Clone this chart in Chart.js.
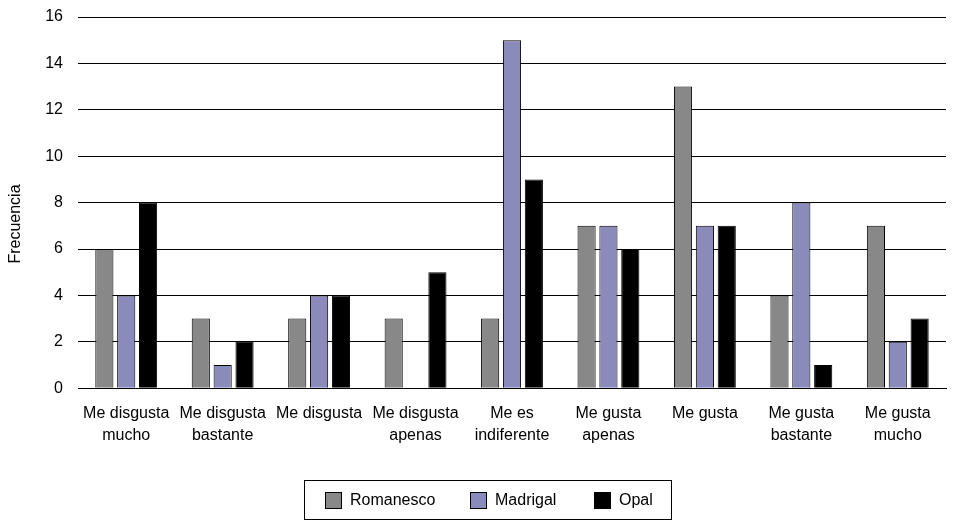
<!DOCTYPE html>
<html><head><meta charset="utf-8">
<script src="https://cdn.jsdelivr.net/npm/chart.js@4"></script>
<style>
html,body{margin:0;padding:0;background:#fff}
#w{width:964px;height:523px;position:relative}
#lg{position:absolute;left:304px;top:480px;width:366px;height:38px;border:1px solid #000;font-family:'Liberation Sans',Arial,sans-serif;font-size:16px;color:#000}
#lg .it{position:absolute;top:0;height:38px;display:flex;align-items:center}
#lg .sw{width:15px;height:15px;border:1px solid #000;margin-right:8px;box-sizing:content-box}
</style>
</head><body><div id="w"><canvas id="c"></canvas><div id="lg"></div></div>
<script>
const categories = [["Me disgusta","mucho"],["Me disgusta","bastante"],["Me disgusta"],["Me disgusta","apenas"],["Me es","indiferente"],["Me gusta","apenas"],["Me gusta"],["Me gusta","bastante"],["Me gusta","mucho"]];
const seriesNames = ["Romanesco","Madrigal","Opal"];
const romanesco = [6,3,3,3,3,7,13,4,7];
const madrigal = [4,1,4,0,15,7,7,8,2];
const opal = [8,2,4,5,9,6,7,1,3];
const colors = ["#888888","#8a8abb","#000000"];
const yTitle = "Frecuencia";

const fontFamily = "'Liberation Sans', Arial, sans-serif";
Chart.defaults.font = {family:fontFamily, size:16};
Chart.defaults.color = "#000";

const legendX = [20, 165, 289];
const lg = document.getElementById('lg');
seriesNames.forEach((n,i)=>{
  const it = document.createElement('div'); it.className='it'; it.style.left=legendX[i]+'px';
  const sw = document.createElement('div'); sw.className='sw'; sw.style.background=colors[i];
  const t = document.createElement('span'); t.textContent=n;
  it.appendChild(sw); it.appendChild(t); lg.appendChild(it);
});

const yTitlePlugin = {
  id:'yTitlePlugin',
  afterDraw(chart){
    const ctx = chart.ctx;
    ctx.save();
    ctx.translate(16, 224);
    ctx.rotate(-Math.PI/2);
    ctx.font = "16px " + fontFamily;
    ctx.fillStyle = '#000';
    ctx.textAlign = 'center';
    ctx.textBaseline = 'middle';
    ctx.fillText(yTitle, 0, 0);
    ctx.restore();
  }
};

new Chart(document.getElementById('c'), {
  type:'bar',
  data:{labels:categories, datasets:[romanesco,madrigal,opal].map((d,i)=>({
    label:seriesNames[i], data:d, backgroundColor:colors[i], borderColor:'#000', borderWidth:1,
    barPercentage:0.83, categoryPercentage:0.68
  }))},
  options:{
    responsive:true, maintainAspectRatio:false, animation:false,
    layout:{padding:{top:17,right:18,left:0,bottom:70}},
    plugins:{ legend:{display:false}, tooltip:{enabled:false} },
    scales:{
      x:{grid:{display:false}, border:{display:true,color:'#000',width:1}, ticks:{maxRotation:0, autoSkip:false, padding:6, color:'#000', font:{family:fontFamily,size:16,lineHeight:1.4}}},
      y:{min:0,max:16, ticks:{stepSize:2, padding:3, color:'#000'}, grid:{color:'#000', lineWidth:1, drawTicks:true, tickLength:12, tickColor:'rgba(0,0,0,0)'}, border:{display:false},
         afterFit(scale){ scale.width = 78; }}
    }
  },
  plugins:[yTitlePlugin]
});
</script></body></html>
